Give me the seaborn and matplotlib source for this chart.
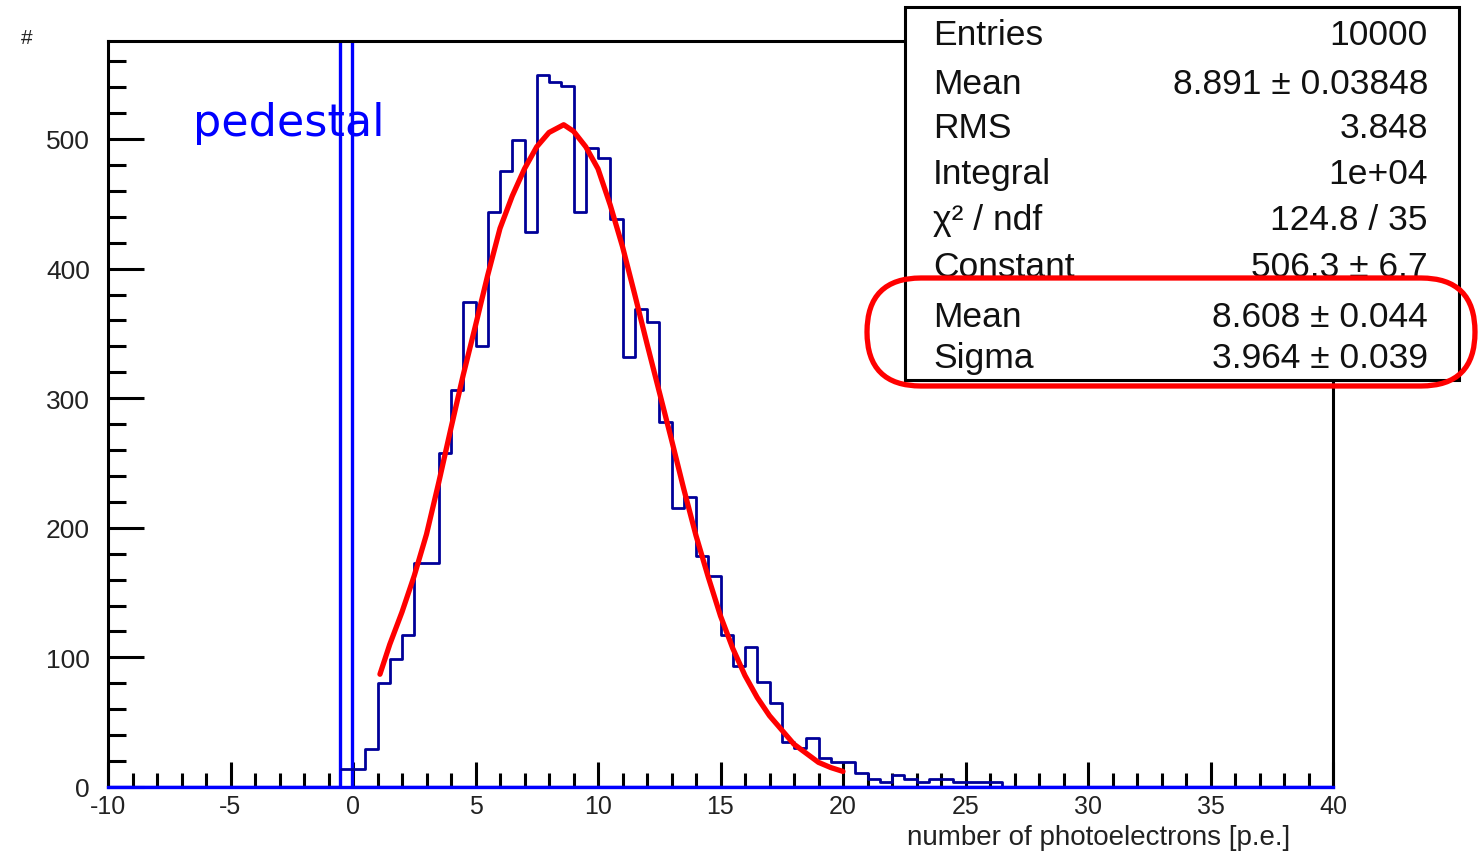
import matplotlib
matplotlib.use('Agg')
import matplotlib.pyplot as plt
import pandas as pd
import seaborn as sns
from matplotlib.ticker import MultipleLocator
from matplotlib.patches import Rectangle, FancyBboxPatch

# ---- data ----
# photoelectron histogram: 0.5 p.e. bins, first bin starts at -0.5
bin_start = -0.5
bin_width = 0.5
pe_counts = [14, 14, 29, 80, 99, 117, 173, 173, 258, 306,
             374, 340, 444, 475, 499, 428, 549, 544, 541, 444,
             493, 485, 438, 332, 369, 359, 282, 215, 224, 178,
             163, 117, 93, 108, 81, 65, 35, 30, 38, 22,
             19, 19, 11, 6, 4, 9, 6, 4, 6, 6,
             4, 4, 4, 4, 0]

# pedestal histogram (off scale)
ped_edges = [-10, -0.55, -0.05, 40]
ped_counts = [0, 3000, 0]

# gaussian fit curve
fit_x = [1.1, 1.5, 2, 2.5, 3, 3.5, 4, 4.5, 5, 5.5,
         6, 6.5, 7, 7.5, 8, 8.6, 9, 9.5, 10, 10.5,
         11, 11.5, 12, 12.5, 13, 13.5, 14, 14.5, 15, 15.5,
         16, 16.5, 17, 17.5, 18, 18.5, 19, 19.5, 20]
fit_y = [87, 110, 135, 163, 195, 235, 277, 318, 356, 395,
         431, 456, 477, 494, 505, 511, 506, 494, 477, 449,
         417, 380, 342, 305, 268, 230, 194, 162, 132, 107,
         86, 69, 55, 44, 33, 26, 19, 15, 12]

# stats box
stat_names = ['Entries', 'Mean', 'RMS', 'Integral', 'χ² / ndf',
              'Constant', 'Mean', 'Sigma']
stat_values = ['10000', '8.891 ± 0.03848', '3.848', '1e+04', '124.8 / 35',
               '506.3 ± 6.7', '8.608 ± 0.044', '3.964 ± 0.039']

# ---- style ----
sns.set_style('ticks')
plt.rcParams['font.family'] = ['Liberation Sans', 'DejaVu Sans']
plt.rcParams['axes.unicode_minus'] = False

W, H = 1478, 853
fig = plt.figure(figsize=(W / 100, H / 100), dpi=100)
fig.patch.set_facecolor('white')
ax = fig.add_axes([108 / W, (H - 788) / H, 1225 / W, 746 / H])
ax.set_facecolor('white')

n_bins = len(pe_counts)
edges = [bin_start + bin_width * i for i in range(n_bins + 1)]
centers = [e + bin_width / 2 for e in edges[:-1]]
hist_df = pd.DataFrame({'pe': centers, 'n': pe_counts})

ped_centers = [(a + b) / 2 for a, b in zip(ped_edges[:-1], ped_edges[1:])]
ped_df = pd.DataFrame({'pe': ped_centers, 'n': ped_counts})

sns.histplot(data=ped_df, x='pe', weights='n', bins=ped_edges,
             element='step', fill=False, color='#0000ff', linewidth=2.4, ax=ax)
sns.histplot(data=hist_df, x='pe', weights='n', bins=edges,
             element='step', fill=False, color='#000099', linewidth=2.0, ax=ax)
fit_df = pd.DataFrame({'x': fit_x, 'y': fit_y})
sns.lineplot(data=fit_df, x='x', y='y', color='#ff0000', linewidth=3.8,
             estimator=None, ax=ax, zorder=5)

ax.set_xlim(-10, 40)
ax.set_ylim(0, 575.6)

# ROOT-like frame and ticks
for side in ['left', 'right', 'top']:
    ax.spines[side].set_color('black')
    ax.spines[side].set_linewidth(2.2)
ax.spines['bottom'].set_color('#0000ff')
ax.spines['bottom'].set_linewidth(2.4)

ax.xaxis.set_major_locator(MultipleLocator(5))
ax.xaxis.set_minor_locator(MultipleLocator(1))
ax.yaxis.set_major_locator(MultipleLocator(100))
ax.yaxis.set_minor_locator(MultipleLocator(20))
ax.tick_params(which='both', direction='in', top=False, right=False,
               color='black', width=2.2, labelcolor='#222222')
ax.tick_params(axis='x', which='major', length=18, pad=5, labelsize=18)
ax.tick_params(axis='x', which='minor', length=10)
ax.tick_params(axis='y', which='major', length=26, pad=13, labelsize=19)
ax.tick_params(axis='y', which='minor', length=13)

ax.set_xlabel('number of photoelectrons [p.e.]', fontsize=20, color='#222222',
              loc='right')
ax.xaxis.set_label_coords((1290 - 108) / 1225, -(825 - 788) / 746)
ax.set_ylabel('#', fontsize=15, rotation=0, color='#222222')
ax.yaxis.set_label_coords((27 - 108) / 1225, (788 - 48) / 746)

ax.text(-6.55, 503, 'pedestal', color='#0000ff', fontsize=32,
        family='DejaVu Sans', va='baseline', ha='left')

# stats box
box = Rectangle((905 / W, (H - 381) / H), 554 / W, 373 / H,
                transform=fig.transFigure, facecolor='white',
                edgecolor='black', linewidth=2.2, zorder=10)
fig.add_artist(box)
baselines = [45, 94, 138, 184, 230, 277, 327, 368]
for name, val, b in zip(stat_names, stat_values, baselines):
    fig.text(933 / W, 1 - b / H, name, fontsize=25.5, color='#111111',
             va='baseline', ha='left', zorder=11)
    fig.text(1428 / W, 1 - b / H, val, fontsize=25.5, color='#111111',
             va='baseline', ha='right', zorder=11)

# red highlight around fitted mean / sigma
hl = FancyBboxPatch((867, H - 387), 608, 108,
                    boxstyle='round,pad=0,rounding_size=54',
                    transform=None, facecolor='none', edgecolor='#ff0000',
                    linewidth=3.8, zorder=12)
fig.add_artist(hl)

fig.savefig('out.png', dpi=100)
